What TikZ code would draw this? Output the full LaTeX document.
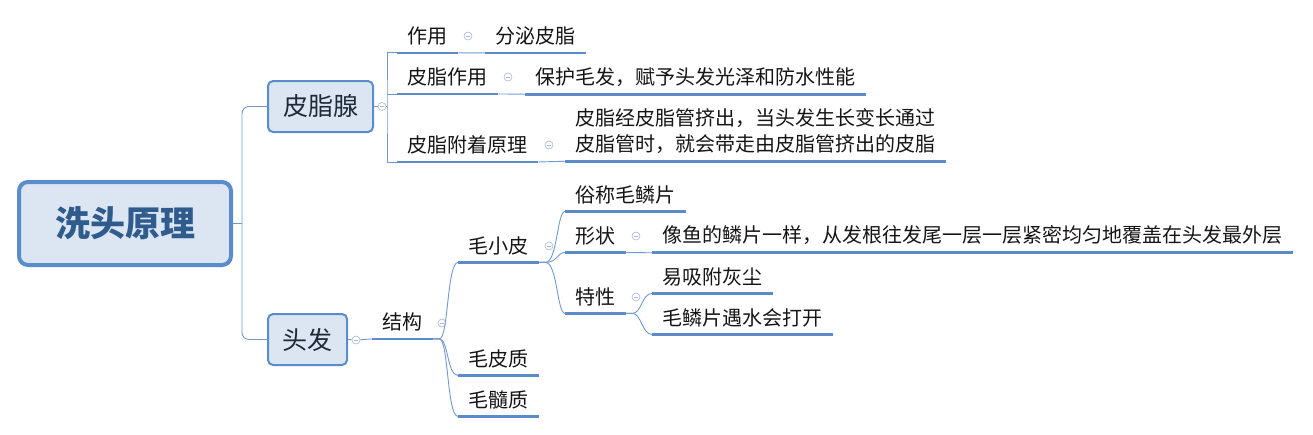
\documentclass[tikz,border=0pt]{standalone}
\usepackage{fontspec}
\newfontfamily\cjk{Noto Sans CJK SC}
\definecolor{ulc}{HTML}{5B8BC9}
\definecolor{cnc}{HTML}{7198CE}
\definecolor{mkc}{HTML}{A7B8D2}
\definecolor{boxfill}{HTML}{DCE6F2}
\definecolor{boxdraw}{HTML}{5B8CCB}
\definecolor{roottext}{HTML}{2F5B8D}
\definecolor{subtext}{HTML}{1E2A38}
\definecolor{leaftext}{HTML}{151515}
\tikzset{
  topic/.style={anchor=west, inner xsep=10.5pt, inner ysep=7.5pt, text=leaftext,
    font=\cjk\fontsize{20}{26}\selectfont, align=left},
  uline/.style={draw=ulc, line width=2.6pt},
  conn/.style={draw=cnc, line width=0.9pt},
  mk/.style={circle, draw=mkc, fill=white, line width=0.6pt, minimum size=8pt, inner sep=0pt,
    path picture={\draw[mkc, line width=0.6pt] ([xshift=-2pt]path picture bounding box.center) -- ([xshift=2pt]path picture bounding box.center);}},
  rootbox/.style={draw=boxdraw, fill=boxfill, line width=4pt, rounded corners=9pt,
    minimum width=212pt, minimum height=83pt, inner sep=0pt, text=roottext,
    font=\cjk\fontsize{35}{40}\selectfont\bfseries},
  subbox/.style={draw=boxdraw, fill=boxfill, line width=2pt, rounded corners=5pt,
    minimum height=51pt, inner sep=0pt, text=subtext,
    font=\cjk\fontsize{25}{30}\selectfont}
}
\begin{document}
\begin{tikzpicture}[x=1pt,y=-1pt]
\useasboundingbox (0,0) rectangle (1313,434);
% root and main branches
\node[rootbox] (root) at (125,223.5) {洗头原理};
\node[subbox, minimum width=105pt] (pzx) at (320.5,106.5) {皮脂腺};
\node[subbox, minimum width=79pt] (tf) at (307.5,339.5) {头发};
\coordinate (trunk) at (242,223.5);
\draw[conn] (root.east) -- (trunk);
\draw[conn, rounded corners=7pt] (pzx.west) -| (trunk) |- (tf.west);

% 皮脂腺 branch
\node[topic] (zy) at (397,36) {作用};
\node[topic] (fm) at (485,36) {分泌皮脂};
\node[topic] (pzzy) at (397,77) {皮脂作用};
\node[topic] (bh) at (525,77) {保护毛发，赋予头发光泽和防水性能};
\node[topic] (fzyl) at (397,145) {皮脂附着原理};
\node[topic] (pzj) at (565,131) {皮脂经皮脂管挤出，当头发生长变长通过\\皮脂管时，就会带走由皮脂管挤出的皮脂};
\coordinate (b1) at (387,106.5);
\node[mk] (mk1) at (382,106.5) {};
\draw[conn] (pzx.east) -- (mk1) -- (b1);
\draw[conn] (zy.south west) -| (b1) |- (fzyl.south west);
\draw[conn] (pzzy.south west) -- (pzzy.south west -| b1);
\draw[conn] (zy.south east) -- (fm.south west);
\draw[conn] (pzzy.south east) -- (bh.south west);
\draw[conn] (fzyl.south east) -- (pzj.south west);
\node[mk] (mk2) at (468,36) {};
\node[mk] (mk3) at (508,77) {};
\node[mk] (mk4) at (549,145) {};

% 头发 branch
\node[topic] (jg) at (372,322) {结构};
\node[mk] (mk5) at (356,340) {};
\draw[conn] (tf.east) -- (mk5) -- (jg.south west);
\node[mk] (mk6) at (442,323) {};
\node[topic] (mxp) at (458,245.5) {毛小皮};
\node[topic] (mpz) at (458,358.5) {毛皮质};
\node[topic] (msz) at (458,399.5) {毛髓质};
\foreach \c in {mxp,mpz,msz}
  \draw[conn] (jg.south east) -- ++(6,0) .. controls +(9,0) and +(-11,0) .. (\c.south west);
\node[mk] (mk7) at (549,246) {};

\node[topic] (sc) at (565,194.5) {俗称毛鳞片};
\node[topic] (xz) at (565,235.5) {形状};
\node[topic] (tx) at (565,296.5) {特性};
\foreach \c in {sc,xz,tx}
  \draw[conn] (mxp.south east) -- ++(6,0) .. controls +(12,0) and +(-8,0) .. (\c.south west);
\node[mk] (mk8) at (636,236) {};
\node[mk] (mk9) at (636,297) {};

\node[topic] (xy) at (652,235.5) {像鱼的鳞片一样，从发根往发尾一层一层紧密均匀地覆盖在头发最外层};
\draw[conn] (xz.south east) -- (xy.south west);
\node[topic] (yx) at (652,276.5) {易吸附灰尘};
\node[topic] (ms) at (652,317.5) {毛鳞片遇水会打开};
\foreach \c in {yx,ms}
  \draw[conn] (tx.south east) -- ++(6,0) .. controls +(9,0) and +(-10,0) .. (\c.south west);

% underlines
\foreach \n in {zy,fm,pzzy,bh,fzyl,pzj,jg,mxp,mpz,msz,sc,xz,tx,xy,yx,ms}
  \draw[uline] (\n.south west) -- (\n.south east);
\end{tikzpicture}
\end{document}
